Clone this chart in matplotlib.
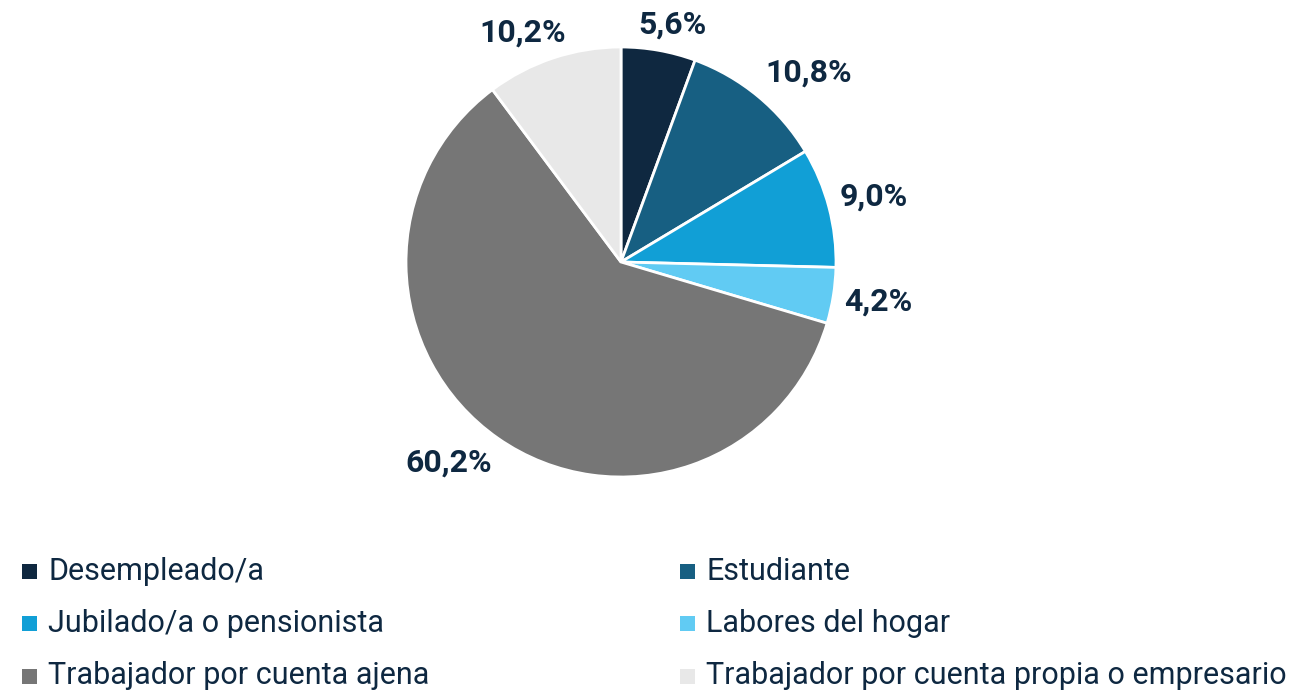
import numpy as np
import matplotlib.pyplot as plt
from matplotlib.patches import Rectangle

plt.rcParams["font.family"] = ["Roboto", "DejaVu Sans"]

categories = [
    "Desempleado/a",
    "Estudiante",
    "Jubilado/a o pensionista",
    "Labores del hogar",
    "Trabajador por cuenta ajena",
    "Trabajador por cuenta propia o empresario",
]
values = [5.6, 10.8, 9.0, 4.2, 60.2, 10.2]
labels = ["5,6%", "10,8%", "9,0%", "4,2%", "60,2%", "10,2%"]

colors = ["#0F2840", "#175F82", "#119FD6", "#61CBF3", "#767676", "#E8E8E8"]
text_color = "#0E2841"

W, H = 1300, 693
fig = plt.figure(figsize=(W / 100, H / 100), dpi=100)

cx, cy, r = 621, 262, 215
ax = fig.add_axes([(cx - r) / W, (H - cy - r) / H, 2 * r / W, 2 * r / H])
wedges, _ = ax.pie(values, colors=colors, startangle=90, counterclock=False,
                   radius=1, wedgeprops=dict(edgecolor="white", linewidth=2))
ax.set_xlim(-1, 1)
ax.set_ylim(-1, 1)
ax.set_aspect("equal")
ax.axis("off")

# outside-end labels: anchor at the rim, push text box outward
renderer = fig.canvas.get_renderer()
for w, lab in zip(wedges, labels):
    ang = np.deg2rad((w.theta1 + w.theta2) / 2)
    c, s = np.cos(ang), np.sin(ang)
    t = ax.text(0, 0, lab, fontsize=23, fontweight="bold", color=text_color,
                ha="center", va="center", clip_on=False)
    bb = t.get_window_extent(renderer)
    hw, hh = bb.width / 2, bb.height / 2
    fx, fy = np.clip(2 * c, -1, 1), np.clip(2 * s, -1, 1)
    px = 1.05 * r * c + hw * fx
    py = 1.05 * r * s + hh * fy
    t.set_position((px / r, py / r))

# legend, two columns
col_x = [22, 680]
row_y = [571, 623, 676]
for i, (name, c) in enumerate(zip(categories, colors)):
    x = col_x[i % 2]
    y = row_y[i // 2]
    fig.patches.append(Rectangle((x / W, (H - y - 8) / H), 15 / W, 15 / H,
                                 transform=fig.transFigure, facecolor=c,
                                 edgecolor="none"))
    fig.text((x + 26) / W, (H - y) / H, name, ha="left", va="center",
             fontsize=22, color=text_color)

fig.savefig("out.png", dpi=100)
